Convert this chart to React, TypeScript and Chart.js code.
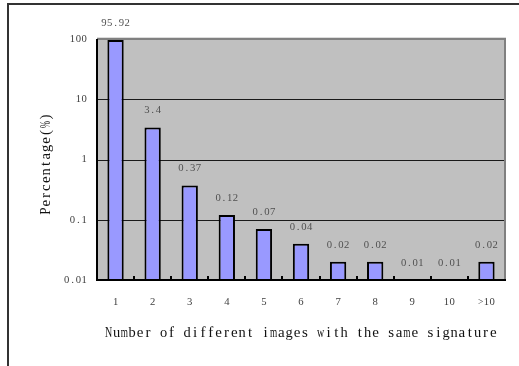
import React, { useEffect, useRef } from "react";
import { Chart, registerables } from "chart.js";

Chart.register(...registerables);

const categories = ["1", "2", "3", "4", "5", "6", "7", "8", "9", "10", ">10"];
const percentages = [95.92, 3.4, 0.37, 0.12, 0.07, 0.04, 0.02, 0.02, 0.01, 0.01, 0.02];
const valueLabels = ["95.92", "3.4", "0.37", "0.12", "0.07", "0.04", "0.02", "0.02", "0.01", "0.01", "0.02"];
const yTickValues = [0.01, 0.1, 1, 10, 100];
const yTickLabels = ["0.01", "0.1", "1", "10", "100"];
const xTitle = "Number of different images with the same signature";
const yTitle = "Percentage(%)";

const SERIF = "'Liberation Serif', 'DejaVu Serif', serif";

function drawMono(ctx: CanvasRenderingContext2D, text: string, cx: number, cy: number, cell: number, align: "center" | "right" = "center") {
  const total = text.length * cell;
  const start = align === "center" ? cx - total / 2 : cx - total;
  ctx.textAlign = "center";
  ctx.textBaseline = "middle";
  const maxW = cell * 0.92;
  for (let i = 0; i < text.length; i++) {
    const ch = text[i];
    const px = start + cell * (i + 0.5);
    const mw = ctx.measureText(ch).width;
    if (mw > maxW) {
      ctx.save();
      ctx.translate(px, cy);
      ctx.scale(maxW / mw, 1);
      ctx.fillText(ch, 0, 0);
      ctx.restore();
    } else {
      ctx.fillText(ch, px, cy);
    }
  }
}

const decorPlugin = {
  id: "decor",
  beforeDraw(chart: any) {
    const { ctx, chartArea: a } = chart;
    ctx.save();
    ctx.fillStyle = "#ffffff";
    ctx.fillRect(0, 0, chart.width, chart.height);
    ctx.fillStyle = "#C0C0C0";
    ctx.fillRect(a.left, a.top, a.right - a.left, a.bottom - a.top);
    ctx.restore();
  },
  beforeDatasetsDraw(chart: any) {
    const { ctx, chartArea: a, scales } = chart;
    const y = scales.y;
    ctx.save();
    ctx.strokeStyle = "#1a1a1a";
    ctx.lineWidth = 1;
    yTickValues.forEach((v) => {
      if (v === 100 || v === 0.01) return;
      const py = Math.round(y.getPixelForValue(v)) + 0.5;
      ctx.beginPath();
      ctx.moveTo(a.left, py);
      ctx.lineTo(a.right, py);
      ctx.stroke();
    });
    ctx.restore();
  },
  afterDatasetsDraw(chart: any) {
    const { ctx, chartArea: a, scales } = chart;
    const x = scales.x;
    const y = scales.y;
    ctx.save();
    // top & right gray border
    ctx.strokeStyle = "#dcdcdc";
    ctx.lineWidth = 1;
    ctx.beginPath();
    ctx.moveTo(a.left, a.top - 1.5);
    ctx.lineTo(a.right + 1, a.top - 1.5);
    ctx.stroke();
    ctx.strokeStyle = "#808080";
    ctx.lineWidth = 2;
    ctx.beginPath();
    ctx.moveTo(a.left, a.top);
    ctx.lineTo(a.right, a.top);
    ctx.lineTo(a.right, a.bottom);
    ctx.stroke();
    // left and bottom axes
    ctx.strokeStyle = "#000000";
    ctx.lineWidth = 2;
    ctx.beginPath();
    ctx.moveTo(a.left, a.top);
    ctx.lineTo(a.left, a.bottom);
    ctx.lineTo(a.right + 1, a.bottom);
    ctx.stroke();
    // inner ticks at category boundaries
    const n = categories.length;
    const w = (a.right - a.left) / n;
    for (let i = 1; i < n; i++) {
      const px = Math.round(a.left + w * i);
      ctx.beginPath();
      ctx.moveTo(px, a.bottom);
      ctx.lineTo(px, a.bottom - 4);
      ctx.stroke();
    }
    // tick labels
    ctx.fillStyle = "#404040";
    ctx.font = `11px ${SERIF}`;
    yTickValues.forEach((v, i) => {
      drawMono(ctx, yTickLabels[i], 87, y.getPixelForValue(v), 5.8, "right");
    });
    categories.forEach((c, i) => {
      drawMono(ctx, c, x.getPixelForValue(i), 302, 5.8);
    });
    // data labels
    ctx.fillStyle = "#505050";
    percentages.forEach((v, i) => {
      drawMono(ctx, valueLabels[i], x.getPixelForValue(i), y.getPixelForValue(v) - 17, 5.8);
    });
    // titles
    ctx.fillStyle = "#111111";
    ctx.font = `15px ${SERIF}`;
    drawMono(ctx, xTitle, 301, 333, 7.85);
    ctx.translate(46, 164);
    ctx.rotate(-Math.PI / 2);
    drawMono(ctx, yTitle, 0, 0, 7.85);
    ctx.restore();
  },
  afterDraw(chart: any) {
    const { ctx } = chart;
    ctx.save();
    ctx.strokeStyle = "#333333";
    ctx.lineWidth = 2;
    ctx.beginPath();
    ctx.moveTo(8, chart.height + 5);
    ctx.lineTo(8, 4);
    ctx.lineTo(chart.width + 5, 4);
    ctx.stroke();
    ctx.restore();
  },
};

export default function App() {
  const ref = useRef<HTMLCanvasElement>(null);
  useEffect(() => {
    if (!ref.current) return;
    const chart = new Chart(ref.current, {
      type: "bar",
      data: {
        labels: categories,
        datasets: [
          {
            data: percentages,
            backgroundColor: "#9999FF",
            borderColor: "#000000",
            borderWidth: 2,
            barPercentage: 0.44,
            categoryPercentage: 1,
          },
        ],
      },
      options: {
        responsive: false,
        animation: false,
        devicePixelRatio: 1,
        layout: { padding: { top: 39, right: 14, left: 0, bottom: 0 } },
        plugins: { legend: { display: false }, tooltip: { enabled: false } },
        scales: {
          x: {
            grid: { display: false, drawTicks: false },
            border: { display: false },
            ticks: { display: false },
            afterFit: (s: any) => {
              s.height = 86;
            },
          },
          y: {
            type: "logarithmic",
            min: 0.01,
            max: 100,
            afterBuildTicks: (s: any) => {
              s.ticks = yTickValues.map((v) => ({ value: v }));
            },
            ticks: {
              display: false,
              callback: (_v: any, i: number) => yTickLabels[i],
            },
            grid: { display: false, drawTicks: false },
            border: { display: false },
            afterFit: (s: any) => {
              s.width = 97;
            },
          },
        },
      },
      plugins: [decorPlugin],
    } as any);
    return () => chart.destroy();
  }, []);
  return (
    <div style={{ position: "fixed", left: 0, top: 0, width: 519, height: 366 }}>
      <canvas ref={ref} width={519} height={366} style={{ display: "block" }} />
    </div>
  );
}
